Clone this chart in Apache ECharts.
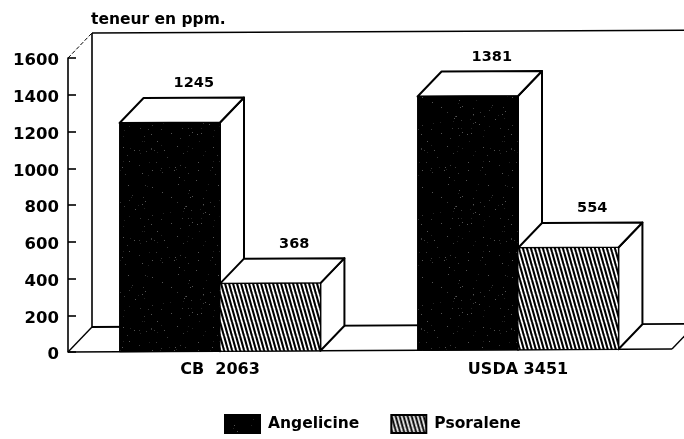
<!DOCTYPE html>
<html><head><meta charset="utf-8">
<script src="https://cdn.jsdelivr.net/npm/echarts@6/dist/echarts.min.js"></script>
<style>html,body{margin:0;background:#fff}#c{width:684px;height:439px}</style></head>
<body><div id="c"></div>
<script>
const categories = ['CB  2063', 'USDA 3451'];
const angelicine = [1245, 1381];
const psoralene = [368, 554];
const yTicks = [0, 200, 400, 600, 800, 1000, 1200, 1400, 1600];

const FONT = 'DejaVu Sans';
const DX = 24, DY = 25;          // oblique depth of the pseudo-3D view
const TILT = -3 / 604;           // slight rotation of the scanned page
const X0 = 68;

function speckle() {
  const c = document.createElement('canvas'); c.width = c.height = 90;
  const g = c.getContext('2d'); g.fillStyle = '#000'; g.fillRect(0, 0, 90, 90);
  let s = 17;
  for (let i = 0; i < 110; i++) {
    s = (s * 137 + 59) % 8101; const x = s % 90;
    s = (s * 137 + 59) % 8101; const y = s % 90;
    g.fillStyle = ['#222', '#3a3a3a', '#555'][i % 3]; g.fillRect(x, y, 1, 1);
  }
  return c;
}
function hatch() {
  const c = document.createElement('canvas'); c.width = 4; c.height = 14;
  const g = c.getContext('2d'); g.fillStyle = '#fff'; g.fillRect(0, 0, 4, 14);
  g.strokeStyle = '#000'; g.lineWidth = 2.1;
  for (let k = -8; k <= 8; k += 4) { g.beginPath(); g.moveTo(k, 0); g.lineTo(k + 4, 14); g.stroke(); }
  return c;
}
const darkFill = { image: speckle(), repeat: 'repeat' };
const hatchFill = { image: hatch(), repeat: 'repeat' };

const tilt = (x, y) => [x, y + (x - X0) * TILT];

function bars(side, fill) {
  return function (params, api) {
    const cat = api.value(0), val = api.value(1);
    const top = api.coord([cat, val]), base = api.coord([cat, 0]);
    const w = api.size([1, 0])[0] * 0.337;
    const x1 = top[0] + (side < 0 ? -w : 0), x2 = x1 + w;
    const a = tilt(x1, base[1]), b = tilt(x2, base[1]), c = tilt(x2, top[1]), d = tilt(x1, top[1]);
    const off = p => [p[0] + DX, p[1] - DY];
    const line = { stroke: '#000', lineWidth: 2, lineJoin: 'round' };
    const lab = off([(c[0] + d[0]) / 2, (c[1] + d[1]) / 2]);
    return { type: 'group', children: [
      { type: 'polygon', shape: { points: [b, c, off(c), off(b)] }, style: { fill: '#fff', ...line } },
      { type: 'polygon', shape: { points: [d, c, off(c), off(d)] }, style: { fill: '#fff', ...line } },
      { type: 'polygon', shape: { points: [a, b, c, d] }, style: { fill: fill, stroke: '#000', lineWidth: 1 } },
      { type: 'text', style: { text: String(val), x: lab[0], y: lab[1] - 14, align: 'center', verticalAlign: 'middle',
        font: 'bold 14.5px "' + FONT + '"', fill: '#000' } }
    ] };
  };
}
function frame(params, api) {
  const o = api.coord([0, 0]), t = api.coord([0, 1600]);
  const L = X0, R = 672, E = 690;
  const seg = (p, q, lw, dash) => ({ type: 'line', shape: { x1: p[0], y1: p[1], x2: q[0], y2: q[1] },
    style: { stroke: '#000', lineWidth: lw, lineDash: dash || null } });
  const backTop = [L + DX, t[1] - DY], backBase = [L + DX, o[1] - DY];
  return { type: 'group', children: [
    seg([L, t[1]], backTop, 1, [4, 2]),
    seg(backTop, backBase, 1.6),
    seg(backTop, tilt(E, t[1] - DY + 0.3), 1.6),
    seg(backBase, tilt(E, o[1] - DY), 1.8),
    seg([L, o[1]], backBase, 1.4),
    seg([L, o[1]], tilt(R, o[1]), 1.6),
    seg(tilt(R, o[1]), tilt(R + DX, o[1] - DY), 1.4)
  ] };
}
const chart = echarts.init(document.getElementById('c'), null, { renderer: 'canvas' });
const rows = arr => arr.map((v, i) => [i, v]);
chart.setOption({
  animation: false,
  backgroundColor: '#fff',
  title: { text: 'teneur en ppm.', left: 91, top: 12, padding: 0,
    textStyle: { fontFamily: FONT, fontWeight: 'bold', fontSize: 15.5, color: '#000' } },
  legend: { left: 224, top: 414, padding: 0, itemWidth: 35, itemHeight: 18, itemGap: 31,
    data: ['Angelicine', 'Psoralene'], icon: 'rect', selectedMode: false,
    textStyle: { fontFamily: FONT, fontWeight: 'bold', fontSize: 15.5, color: '#000', padding: [6, 0, 0, 3] } },
  grid: { left: 71, right: 17, top: 58, bottom: 87 },
  xAxis: { type: 'category', data: categories, axisLine: { show: false }, axisTick: { show: false },
    axisLabel: { margin: 10, color: '#000', fontFamily: FONT, fontWeight: 'bold', fontSize: 16 } },
  yAxis: { type: 'value', min: 0, max: 1600, interval: 200, offset: 3,
    splitLine: { show: false },
    axisLine: { show: true, lineStyle: { color: '#000', width: 1.6 } },
    axisTick: { show: true, inside: true, length: 8, lineStyle: { color: '#000', width: 1.6 } },
    axisLabel: { margin: 9, color: '#000', fontFamily: FONT, fontWeight: 'bold', fontSize: 16.5,
      verticalAlign: 'top', lineHeight: 6,
      formatter: v => yTicks.includes(v) ? String(v) : '' } },
  series: [
    { type: 'custom', name: 'frame', silent: true, clip: false, renderItem: frame, data: [[0, 0]], encode: { x: 0, y: 1 }, z: 1 },
    { type: 'custom', name: 'Angelicine', clip: false, renderItem: bars(-1, darkFill), data: rows(angelicine), encode: { x: 0, y: 1 }, z: 2,
      itemStyle: { color: darkFill, borderColor: '#000', borderWidth: 1 } },
    { type: 'custom', name: 'Psoralene', clip: false, renderItem: bars(1, hatchFill), data: rows(psoralene), encode: { x: 0, y: 1 }, z: 3,
      itemStyle: { color: hatchFill, borderColor: '#000', borderWidth: 1 } }
  ]
});
</script></body></html>
